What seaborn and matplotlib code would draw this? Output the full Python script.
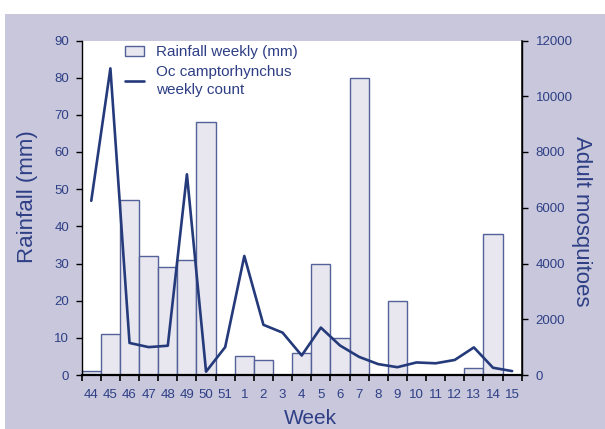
import matplotlib
matplotlib.use("Agg")
import matplotlib.pyplot as plt
from matplotlib.patches import Rectangle
from matplotlib.lines import Line2D
from matplotlib.patches import Patch
import numpy as np
import pandas as pd
import seaborn as sns

weeks = ["44", "45", "46", "47", "48", "49", "50", "51", "1", "2", "3", "4",
         "5", "6", "7", "8", "9", "10", "11", "12", "13", "14", "15"]
rainfall = [1, 11, 47, 32, 29, 31, 68, 0, 5, 4, 0, 6,
            30, 10, 80, 0, 20, 0, 0, 0, 2, 38, 0]
mosquitoes = [6250, 11000, 1150, 1000, 1050, 7200, 120, 1000, 4270, 1800, 1520, 700,
              1700, 1060, 650, 390, 280, 450, 420, 540, 990, 260, 140]

navy = "#243a7a"
text_c = "#2e3f85"
bg = "#c8c7dc"
bar_fill = "#e8e6ef"
bar_edge = "#53639a"

sns.set_theme(style="white")
plt.rcParams["font.family"] = ["Liberation Sans", "DejaVu Sans"]

fig = plt.figure(figsize=(6.05, 4.29), dpi=100)
fig.patch.set_facecolor("white")
fig.patches.append(Rectangle((5 / 605, 0), 600 / 605, (429 - 14) / 429,
                             transform=fig.transFigure, facecolor=bg,
                             edgecolor="none", zorder=-10))

ax = fig.add_axes([81.7 / 605, (429 - 375) / 429, 440 / 605, (375 - 40.5) / 429])
ax.set_facecolor("white")

df = pd.DataFrame({"week": weeks, "rain": rainfall})
sns.barplot(data=df, x="week", y="rain", order=weeks, width=1.0,
            color=bar_fill, edgecolor=bar_edge, linewidth=1.0,
            saturation=1, ax=ax, zorder=2)

ax.set_xlim(-0.5, len(weeks) - 0.5)
ax.set_ylim(0, 90)
ax.set_yticks(np.arange(0, 91, 10))

ax2 = ax.twinx()
sns.lineplot(x=np.arange(len(weeks)), y=mosquitoes, ax=ax2, color=navy,
             linewidth=1.9, zorder=3)
ax2.set_ylim(0, 12000)
ax2.set_yticks(np.arange(0, 12001, 2000))
ax2.set_xlim(-0.5, len(weeks) - 0.5)

# ticks
ax.set_xticks(np.arange(len(weeks)))
ax.set_xticklabels(weeks)
ax.set_xticks(np.arange(-0.5, len(weeks)), minor=True)
ax.tick_params(axis="x", which="major", length=0, labelsize=9.5,
               labelcolor=text_c, pad=10)
ax.tick_params(axis="x", which="minor", length=4, width=1.2, color="black",
               direction="out", bottom=True)
ax.tick_params(axis="y", length=4, width=1.0, color="black", direction="out",
               left=True, labelsize=9.5, labelcolor=text_c, pad=5)
ax2.tick_params(axis="y", length=4, width=1.0, color="black", direction="out",
                right=True, labelsize=9.5, labelcolor=text_c, pad=6)

for a in (ax, ax2):
    a.spines["top"].set_visible(False)
    a.grid(False)
ax.spines["left"].set_color("black")
ax.spines["left"].set_linewidth(1.0)
ax.spines["bottom"].set_color("black")
ax.spines["bottom"].set_linewidth(1.6)
ax2.spines["right"].set_color("black")
ax2.spines["right"].set_linewidth(1.0)
ax2.spines["left"].set_visible(False)
ax2.spines["bottom"].set_visible(False)

ax.set_xlabel("Week", fontsize=15, color=text_c)
ax.xaxis.set_label_coords(0.519, -0.102)
ax.set_ylabel("Rainfall (mm)", fontsize=16, color=text_c)
ax.yaxis.set_label_coords(-0.099, 0.534)
ax2.set_ylabel("Adult mosquitoes", fontsize=16, color=text_c, rotation=270,
               va="bottom")
ax2.yaxis.set_label_coords(1.113, 0.459)

handles = [Patch(facecolor=bar_fill, edgecolor=bar_edge, linewidth=1.0),
           Line2D([0], [0], color=navy, linewidth=1.9)]
labels = ["Rainfall weekly (mm)", "Oc camptorhynchus\nweekly count"]
leg = ax2.legend(handles, labels, loc="upper left",
                 bbox_to_anchor=(0.098, 0.986), frameon=False, fontsize=11,
                 borderpad=0, borderaxespad=0,
                 handlelength=1.25, handleheight=0.6, handletextpad=0.8,
                 labelspacing=0.35)
for t in leg.get_texts():
    t.set_color(text_c)
    t.set_linespacing(1.45)

fig.savefig("out.png", dpi=100)
